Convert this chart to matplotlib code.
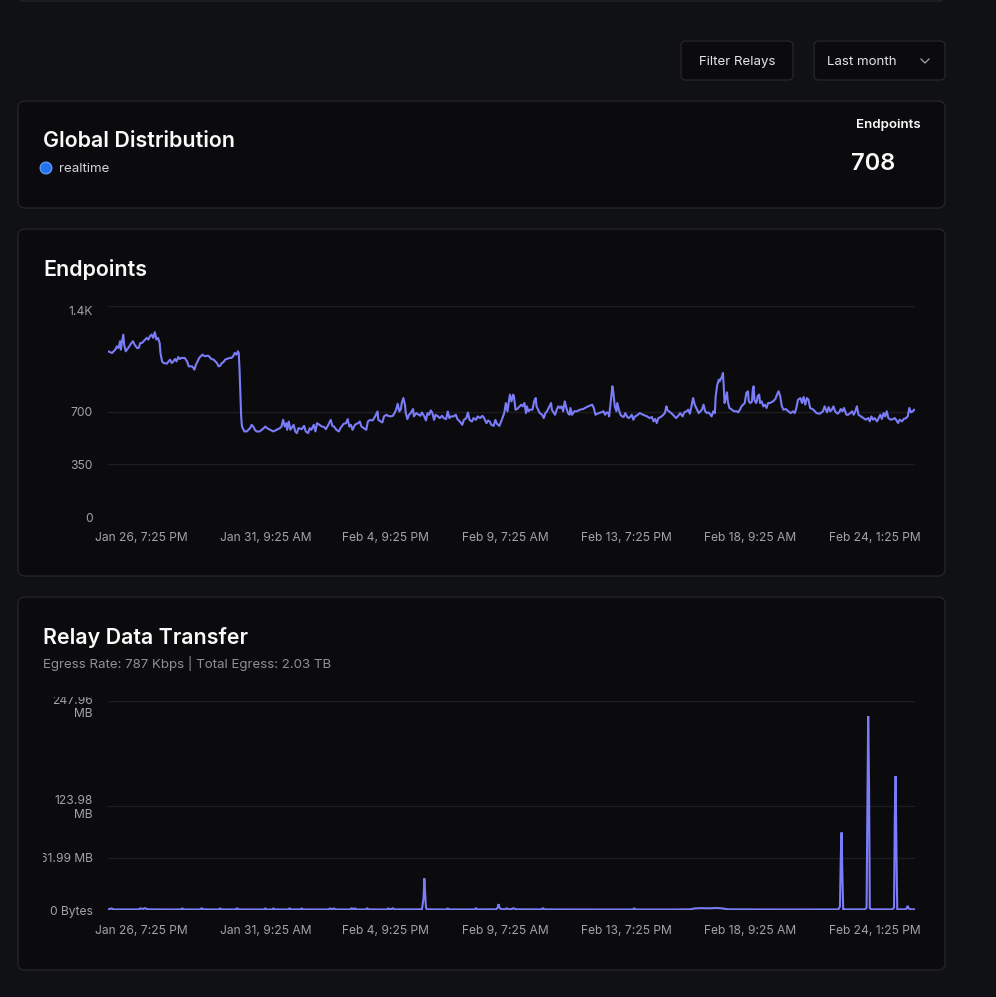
import matplotlib
matplotlib.use("Agg")
import numpy as np
import matplotlib.pyplot as plt
from matplotlib.patches import FancyBboxPatch, Circle
from matplotlib.transforms import Bbox, ScaledTranslation

# ---------------- data ----------------
x_tick_pos = [41, 195, 344, 492, 642, 796, 950]
x_tick_labels = ["Jan 26, 7:25 PM", "Jan 31, 9:25 AM", "Feb 4, 9:25 PM", "Feb 9, 7:25 AM",
                 "Feb 13, 7:25 PM", "Feb 18, 9:25 AM", "Feb 24, 1:25 PM"]

ep_yticks = [0, 350, 700, 1400]
ep_ylabels = ["0", "350", "700", "1.4K"]

# endpoints series (sample position 0..1000, count)
ep_s1 = [0,5,9,11,13,15,16,17,19,20,22,25,29,31,33,36,38,40,42,44,46,48,50,52,54,56,58,60,62,64,
         65,67,69,73,75,77,79,81,83,85,87,89,91,95,98,100,104,106,107,109,111,113,115,117,120,124,126,128,131,133,
         135,137,139,141,143,145,147,151,153,155,157,159,161,162,163,164,165,166,169,172,176,178,180,182,184,188,193,195,197,201,
         205,209,213,215,217,219,221,222,224,226,230,232,234,236]
ep_v1 = [1102,1091,1113,1135,1124,1169,1113,1157,1213,1146,1102,1124,1157,1169,1146,1124,1124,1157,1157,1169,
         1180,1191,1180,1202,1213,1191,1229,1180,1191,1157,1091,1035,1024,1020,1035,1046,1024,1035,1051,1035,
         1064,1051,1058,1058,1035,1002,1002,991,980,1013,1035,1058,1069,1080,1069,1073,1064,1051,1046,1035,
         1024,1002,1006,1024,1029,1046,1051,1058,1058,1069,1091,1080,1102,1091,980,824,669,602,569,569,
         591,613,602,580,569,569,591,602,591,580,569,580,591,602,647,602,624,580,635,580,613,569,558,591]
ep_s2 = [240,243,245,248,250,252,255,257,259,262,265,268,270,273,276,278,280,283,286,288,
         292,295,297,299,301,303,306,308,310,312,314,317,320,322,325,328,331,334,335,338,
         340,342,345,347,350,353,355,357,359,361,363,364,366,368,369,371,373,375,378,379,
         382,385,387,389,392,394,396,398,400,402,404,406,409,411,414,416,419,421,423,425,
         428,431,433,436,439,441,444,446,448,451,453,456,458,461,464,466,469,471,473,475,478,480,482,485]
ep_v2 = [584,606,569,558,591,580,613,569,624,613,602,598,584,613,646,606,602,580,569,591,
         620,624,651,602,613,580,613,620,624,635,602,591,580,635,646,642,669,702,646,635,
         629,669,680,673,669,673,691,713,753,702,718,758,791,746,691,651,680,691,718,669,
         691,680,673,695,669,642,691,680,709,691,646,680,669,658,673,658,651,702,658,669,
         669,680,651,635,613,646,658,695,646,635,658,646,669,658,673,658,624,642,635,613,606,646,620,606]
ep_s3 = [488,491,493,495,497,498,500,502,503,505,507,510,512,514,516,518,519,521,523,526,
         528,530,531,533,535,538,540,542,544,547,549,550,552,554,556,558,560,562,564,566,
         568,570,572,573,575,578,581,585,589,593,597,600,602,604,608,611,614,616,618,620,
         621,623,625,626,628,630,631,633,635,637,639,641,643,645,647,649,651,653,655,659,
         663,668,671,674,676,678,680,682,685,687,690,692,693,695,698,701,704,706,709,712,
         714,717,719,721,723,725,727,730,732]
ep_v3 = [647,691,758,703,780,814,769,814,803,714,718,736,747,736,758,691,736,703,714,714,
         769,791,736,714,691,680,658,691,703,736,758,714,696,680,714,736,725,736,703,769,
         725,691,680,725,680,703,703,714,718,731,740,747,725,680,691,696,703,680,696,691,
         669,769,869,836,736,703,758,714,680,669,665,691,669,658,665,680,647,669,674,691,
         680,669,658,665,636,652,625,658,665,674,691,736,714,703,691,674,658,669,691,669,
         696,703,714,687,736,791,747,714,691]
ep_s4 = [736,738,740,742,744,746,748,750,752,753,755,757,758,760,761,762,763,764,766,767,
         768,770,773,776,779,781,783,785,787,789,791,793,794,796,798,799,800,801,803,804,
         805,807,808,810,812,814,816,818,820,822,824,827,829,831,833,835,837,840,843,846,
         849,851,853,855,858,860,862,864,866,868,870,874,878,882,886,888,891,893,895,897,
         899,901,904,906,908,910,912,915,917,920,922,924,926,928,930,933,936,939,942,944,
         946,948,950,953,957,959,961,963,965,967,970,973,975,977,979,981,984,986,989,991,
         993,995,997,999,1000]
ep_v4 = [714,747,703,691,696,685,669,703,691,803,880,914,903,925,936,958,869,758,803,829,
         769,725,714,703,703,696,714,736,747,758,825,836,769,758,769,847,869,780,758,769,
         803,814,758,769,736,747,725,758,758,763,769,785,814,836,803,736,714,718,703,691,
         703,691,725,780,791,758,798,747,791,780,725,714,691,687,703,736,696,731,703,714,
         736,703,687,696,718,703,725,680,680,691,703,680,703,736,680,669,658,647,658,636,
         669,647,658,636,680,652,691,669,703,658,647,652,658,643,625,647,636,652,658,669,
         725,696,703,714,712]

# relay egress (sample position 0..1000, MB)
relay_s = [0,4,6,8,20,38,40,43,46,49,60,80,90,92,94,114,116,118,137,139,141,158,160,162,
           193,195,197,203,205,207,223,225,227,238,240,242,273,275,278,280,282,300,302,304,306,308,
           319,321,323,345,347,350,353,355,389,391,392,393,394,395,419,421,423,454,456,458,
           481,483,484,485,487,492,494,496,500,502,504,506,537,539,541,600,650,652,654,700,
           722,726,735,745,755,762,768,800,850,880,905,907,908,909,910,911,912,
           938,940,941,942,943,944,946,972,974,975,976,977,978,980,988,990,991,992,994,1000]
relay_mb = [0.6,1.8,1.2,0.6,0.7,0.7,2.0,1.2,2.2,0.8,0.7,0.6,0.7,1.8,0.7,0.6,2.0,0.8,0.6,1.8,0.7,0.7,2.0,0.7,
            0.6,1.8,0.6,0.6,1.8,0.7,0.6,1.9,0.7,0.7,1.7,0.7,0.6,1.8,1.0,1.8,0.7,0.6,2.0,0.8,1.9,0.7,
            0.6,2.0,0.7,0.6,1.8,0.8,2.0,0.7,0.8,14.0,37.5,20.0,3.0,0.8,0.6,1.8,0.7,0.7,2.0,0.7,
            0.8,3.0,7.0,3.0,0.9,0.9,2.0,0.9,1.0,2.0,1.6,0.8,0.7,2.0,0.7,0.6,0.6,1.8,0.6,0.6,
            0.8,1.8,2.2,2.0,2.4,1.8,0.8,0.7,0.6,0.7,0.7,4.0,60.0,92.0,40.0,1.0,0.8,
            0.7,3.0,120.0,230.0,150.0,2.0,0.8,0.7,3.0,110.0,159.0,70.0,1.0,0.8,0.7,2.5,5.0,2.0,0.8,0.7]
relay_yticks = [0, 61.99, 123.98, 247.96]
relay_ylabels = ["0 Bytes", "61.99 MB", "123.98\nMB", "247.96\nMB"]

# ---------------- style ----------------
W, H = 996, 997
PAGE = "#101114"
CARD = "#0b0b0e"
BORDER = "#27272a"
GRID = "#1e1e22"
LINE = "#7b7cf7"
WHITE = "#fafafa"
MUTED = "#a1a1aa"
FONT = ["Inter", "DejaVu Sans"]
plt.rcParams["font.family"] = FONT

fig = plt.figure(figsize=(W / 100, H / 100), dpi=100)
fig.patch.set_facecolor(PAGE)
bg = fig.add_axes([0, 0, 1, 1])
bg.set_xlim(0, W)
bg.set_ylim(H, 0)
bg.axis("off")
bg.set_zorder(0)


def box(x0, y0, x1, y1, r=7, fc=CARD):
    p = FancyBboxPatch((x0, y0), x1 - x0, y1 - y0,
                       boxstyle=f"round,pad=0,rounding_size={r}",
                       fc=fc, ec=BORDER, lw=0.9)
    bg.add_patch(p)


# card above (only bottom edge visible)
box(18, -40, 945, 1)
# buttons
box(681, 41, 793, 80, r=5)
box(814, 41, 945, 80, r=5)
bg.text(737, 62, "Filter Relays", color="#e4e4e7", fontsize=9.6, ha="center", va="center")
bg.text(827, 62, "Last month", color="#e4e4e7", fontsize=9.6, ha="left", va="center")
bg.plot([921, 925, 929], [59, 63, 59], color=MUTED, lw=0.9)

# card 1
box(18, 101, 945, 208)
bg.text(43, 141, "Global Distribution", color=WHITE, fontsize=15.4, fontweight="semibold", ha="left", va="center")
bg.add_patch(Circle((46, 168), 5.8, fc="#2272ee", ec="#5a9af7", lw=1))
bg.text(59, 169, "realtime", color="#d4d4d8", fontsize=9.6, ha="left", va="center")
bg.text(921, 125, "Endpoints", color=WHITE, fontsize=9.6, fontweight="semibold", ha="right", va="center")
bg.text(851, 164, "708", color=WHITE, fontsize=17, fontweight="semibold", ha="left", va="center")

# card 2
box(18, 229, 945, 576)
bg.text(43, 269, "Endpoints", color=WHITE, fontsize=15.4, fontweight="semibold", ha="left", va="center")

# card 3
box(18, 597, 945, 970)
bg.text(43, 637, "Relay Data Transfer", color=WHITE, fontsize=15.4, fontweight="semibold", ha="left", va="center")
bg.text(43, 663, "Egress Rate: 787 Kbps | Total Egress: 2.03 TB", color="#8e8e96", fontsize=9.6, ha="left", va="center")


def chart(top, bottom, ymax):
    ax = fig.add_axes([108 / W, 1 - bottom / H, (915 - 108) / W, (bottom - top) / H])
    ax.set_zorder(2)
    ax.patch.set_alpha(0)
    ax.set_xlim(0, 1000)
    ax.set_ylim(0, ymax)
    for sp in ax.spines.values():
        sp.set_visible(False)
    ax.grid(axis="y", color=GRID, lw=1)
    ax.set_axisbelow(True)
    ax.set_xticks(x_tick_pos)
    ax.set_xticklabels(x_tick_labels)
    ax.tick_params(axis="both", length=0, colors=MUTED, labelsize=8.7)
    ax.tick_params(axis="x", pad=10.5)
    ax.tick_params(axis="y", pad=11)
    return ax


def shift_down(lab, px):
    lab.set_transform(lab.get_transform() + ScaledTranslation(0, -px / 100, fig.dpi_scale_trans))


# endpoints chart
ax1 = chart(306.5, 517, 1400)
ax1.set_yticks(ep_yticks)
ax1.set_yticklabels(ep_ylabels)
ep_s = ep_s1 + ep_s2 + ep_s3 + ep_s4
ep_v = ep_v1 + ep_v2 + ep_v3 + ep_v4
ax1.plot(ep_s, ep_v, color=LINE, lw=1.5, solid_joinstyle="round")
shift_down(ax1.get_yticklabels()[-1], 4)

# relay chart
ax2 = chart(701, 910, 247.96)
ax2.set_yticks(relay_yticks)
ax2.set_yticklabels(relay_ylabels)
ax2.plot(relay_s, relay_mb, color=LINE, lw=1.5, solid_joinstyle="miter")
clip = Bbox.from_extents(43, 0, W, H - 697)
for lab in ax2.get_yticklabels():
    lab.set_multialignment("right")
    lab.set_linespacing(1.2)
    lab.set_clip_on(True)
    lab.set_clip_box(clip)
shift_down(ax2.get_yticklabels()[-1], 4)

fig.savefig("out.png", dpi=100, facecolor=PAGE)
